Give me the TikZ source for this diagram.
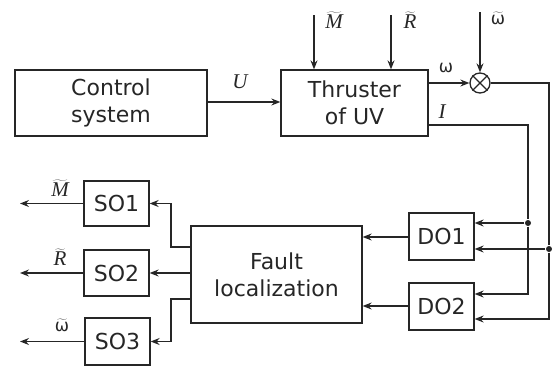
\documentclass[tikz,border=0pt]{standalone}
\usepackage{fontspec}
\setmainfont{DejaVu Sans}
\newfontfamily\labfont{Liberation Serif}
\usetikzlibrary{arrows.meta}
\newcommand{\tlab}[1]{$\widetilde{\mbox{#1}}$}
\begin{document}
\begin{tikzpicture}[x=1pt,y=-1pt,
  line width=1.3pt, draw={black!85},
  blk/.style={draw, rectangle, inner sep=0pt, align=center, font=\fontsize{22}{27}\selectfont, text=black!85},
  lab/.style={inner sep=0pt, font=\fontsize{21}{22}\selectfont\labfont\itshape, text=black!85},
  glab/.style={inner sep=0pt, font=\fontsize{17}{18}\selectfont, text=black!85},
  arr/.style={-{Stealth[length=9pt,width=7pt,inset=3pt]}},
  dot/.style={circle, fill=black!85, inner sep=0pt, minimum size=6pt}]
\useasboundingbox (0,0) rectangle (552,367);
% blocks
\node[blk, minimum width=192pt, minimum height=66pt] (cs) at (111,103) {Control\\system};
\node[blk, minimum width=147pt, minimum height=66pt] (th) at (354.5,103) {Thruster\\of UV};
\node[draw, circle, minimum size=20pt, inner sep=0pt] (sum) at (480,83) {};
\draw (sum.north west) -- (sum.south east) (sum.north east) -- (sum.south west);
\node[blk, minimum width=65pt, minimum height=47pt] (do1) at (441.5,236.5) {DO1};
\node[blk, minimum width=65pt, minimum height=47pt] (do2) at (441.5,306.5) {DO2};
\node[blk, minimum width=171pt, minimum height=97pt] (fl) at (276.5,274.5) {Fault\\localization};
\node[blk, minimum width=65pt, minimum height=45pt] (so1) at (116.5,203.5) {SO1};
\node[blk, minimum width=65pt, minimum height=46pt] (so2) at (116.5,273) {SO2};
\node[blk, minimum width=65pt, minimum height=47pt] (so3) at (117.5,341.5) {SO3};
% coordinates
\coordinate (mtop) at (314,15);
\coordinate (rtop) at (391,15);
\coordinate (wtop) at (480,12);
\coordinate (wr) at (549,83);
\coordinate (ir) at (528,125);
\node[dot] (d1) at (528,223) {};
\node[dot] (d2) at (549,249) {};
\coordinate (o1) at (20,203);
\coordinate (o2) at (20,273);
\coordinate (o3) at (20,341);
% connectors
\draw[arr] (cs.east |- 0,102) -- (th.west |- 0,102);
\node[lab] at (240,82) {U};
\draw[arr] (mtop) -- (mtop |- th.north);
\node[lab] at (334,20) {\tlab{M}};
\draw[arr] (rtop) -- (rtop |- th.north);
\node[lab] at (410,20) {\tlab{R}};
\draw[arr] (wtop) -- (sum.north);
\node[glab] at (498,18) {\tlab{ω}};
\draw[arr] (th.east |- sum) -- (sum.west);
\node[glab] at (446,68) {ω};
\draw (sum.east) -- (wr) -- (d2);
\draw[arr] (d2) -- (d2 -| do1.east);
\draw[arr] (d2) -- (d2 |- 0,319) -- (do2.east |- 0,319);
\draw (th.east |- ir) -- (ir) -- (d1);
\node[lab] at (442,112) {I};
\draw[arr] (d1) -- (d1 -| do1.east);
\draw[arr] (d1) -- (d1 |- 0,294) -- (do2.east |- 0,294);
\draw[arr] (do1.west |- 0,237) -- (fl.east |- 0,237);
\draw[arr] (do2.west |- 0,306) -- (fl.east |- 0,306);
\draw[arr] (fl.west |- 0,247) -- (171,247) -- (171,203.5) -- (so1.east);
\draw[arr] (fl.west |- so2) -- (so2.east);
\draw[arr] (fl.west |- 0,299) -- (171,299) -- (171,341.5) -- (so3.east);
\draw[arr] (so1.west) -- (o1 |- so1);
\draw[arr] (so2.west) -- (o2 |- so2);
\draw[arr] (so3.west) -- (o3 |- so3);
\node[lab] at (60,188) {\tlab{M}};
\node[lab] at (60,257) {\tlab{R}};
\node[glab] at (62,325) {\tlab{ω}};
\end{tikzpicture}
\end{document}
